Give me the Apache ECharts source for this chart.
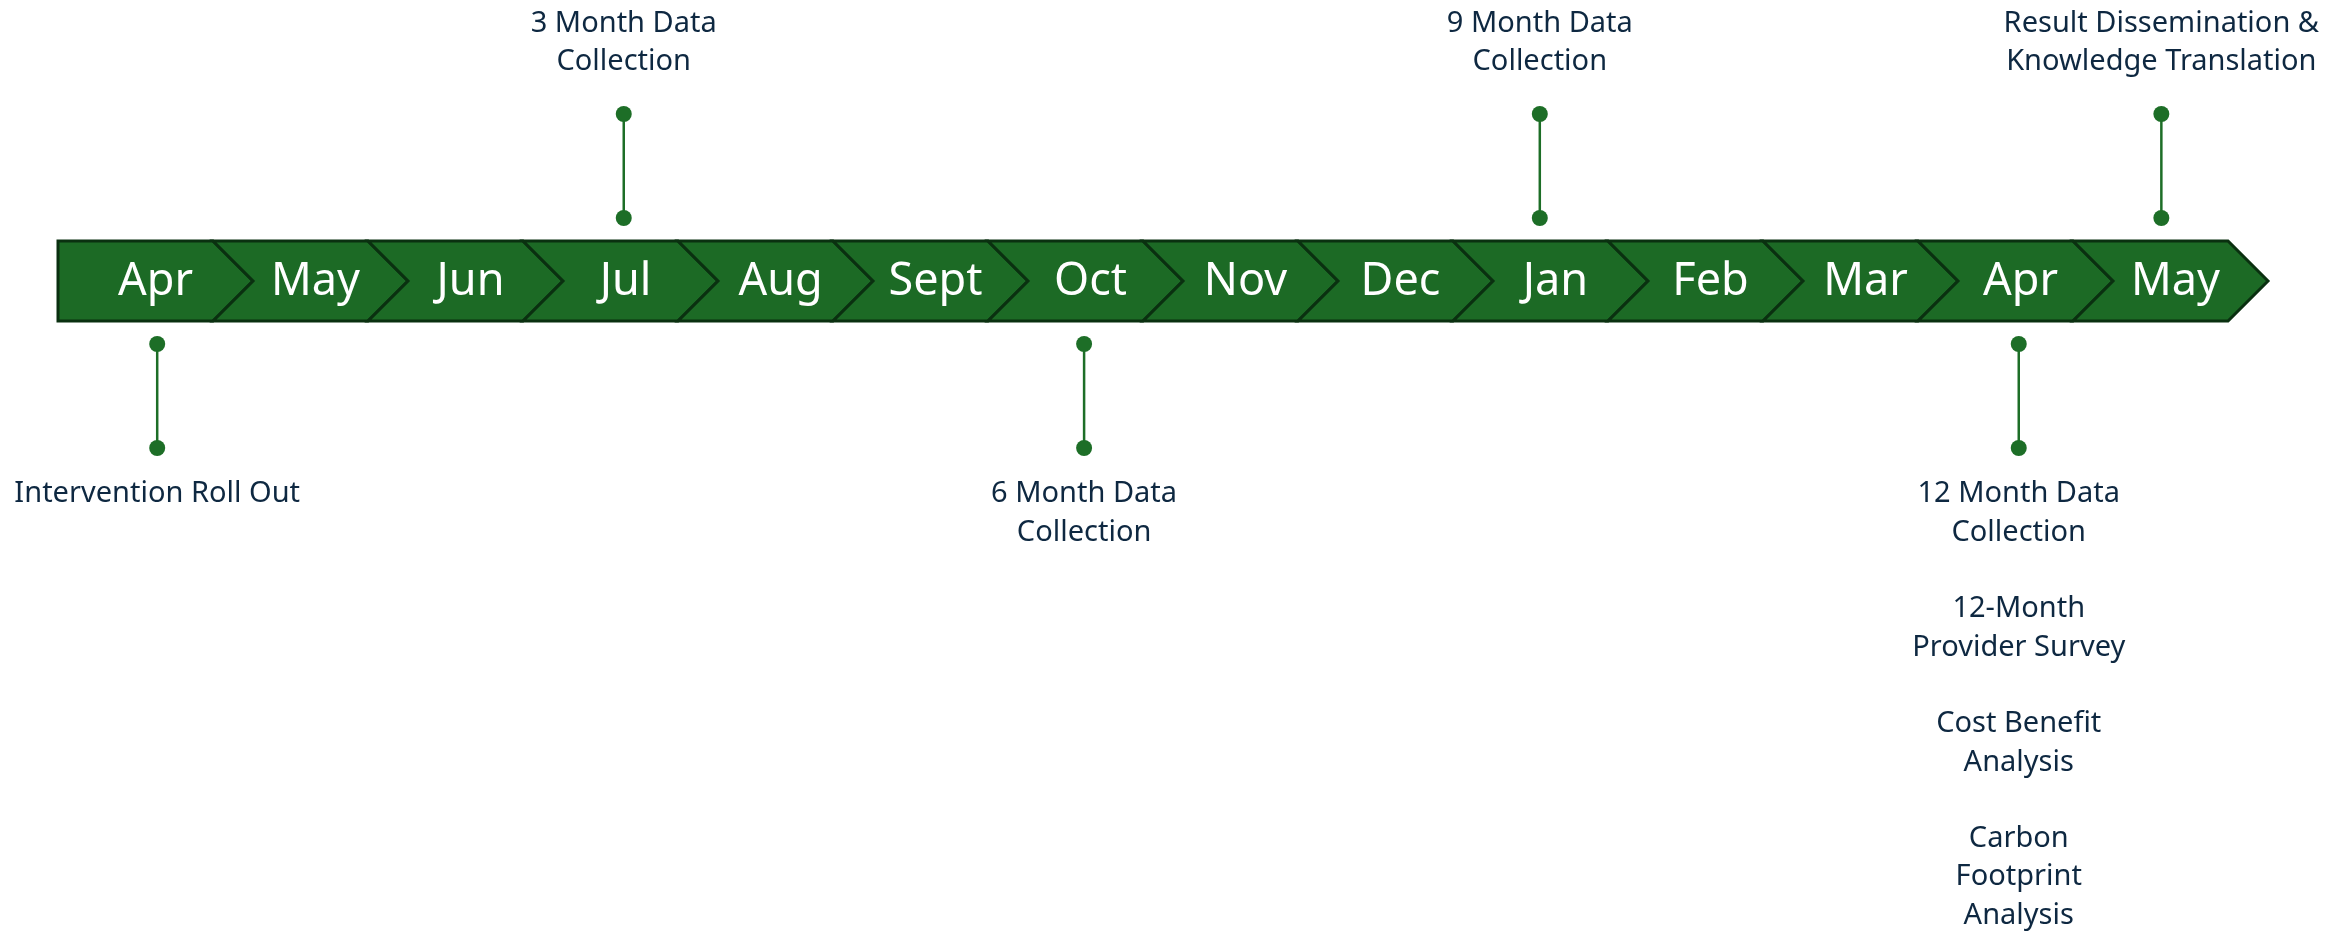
<!DOCTYPE html>
<html>
<head>
<meta charset="utf-8">
<script src="https://cdn.jsdelivr.net/npm/echarts@6/dist/echarts.min.js"></script>
<style>
html, body { margin: 0; padding: 0; background: #fff; }
#timelineChart { width: 2351px; height: 933px; }
</style>
</head>
<body>
<div id="timelineChart"></div>
<script>
// month chevrons along the bar
const months = ['Apr', 'May', 'Jun', 'Jul', 'Aug', 'Sept', 'Oct', 'Nov', 'Dec', 'Jan', 'Feb', 'Mar', 'Apr', 'May']
// milestones: position in months from the start of the bar, side (1 = above, -1 = below)
const milestonePos = [0.64, 3.65, 6.62, 9.56, 12.65, 13.57]
const milestoneSide = [-1, 1, -1, 1, -1, 1]
const milestoneText = [
    'Intervention Roll Out',
    '3 Month Data\nCollection',
    '6 Month Data\nCollection',
    '9 Month Data\nCollection',
    '12 Month Data\nCollection\n\n12-Month\nProvider Survey\n\nCost Benefit\nAnalysis\n\nCarbon\nFootprint\nAnalysis',
    'Result Dissemination &\nKnowledge Translation'
]

const fontFamily = '"Noto Sans", "Open Sans", sans-serif'
const barHalf = 40
const tipDepth = 40

const chevronData = months.map((m, i) => [i, 0, m])
const milestoneData = milestonePos.map((p, i) => [p, 0, milestoneSide[i], milestoneText[i]])

const renderChevron = (params, api) => {
    const i = api.value(0)
    const p0 = api.coord([i, 0])
    const p1 = api.coord([i + 1, 0])
    const y = p0[1]
    const pts = [[p0[0], y - barHalf], [p1[0], y - barHalf], [p1[0] + tipDepth, y], [p1[0], y + barHalf], [p0[0], y + barHalf]]
    if (i > 0) pts.push([p0[0] + tipDepth, y])
    return {
        type: 'group',
        children: [
            {
                type: 'polygon',
                shape: { points: pts },
                style: { fill: '#1c6a25', stroke: '#0a3010', lineWidth: 3, lineJoin: 'miter' }
            },
            {
                type: 'text',
                x: (p0[0] + tipDepth + p1[0]) / 2 + (i > 0 ? 5 : 0),
                y: y + 1,
                style: {
                    text: api.value(2),
                    fill: '#ffffff',
                    font: '45px ' + fontFamily,
                    align: 'center',
                    verticalAlign: 'middle'
                }
            }
        ]
    }
}

const renderMilestone = (params, api) => {
    const p = api.coord([api.value(0), 0])
    const side = api.value(2)
    const x = p[0]
    const near = p[1] - side * 63
    const far = p[1] - side * 167
    return {
        type: 'group',
        children: [
            { type: 'line', shape: { x1: x, y1: near, x2: x, y2: far }, style: { stroke: '#1d6e27', lineWidth: 2.5 } },
            { type: 'circle', shape: { cx: x, cy: near, r: 8 }, style: { fill: '#1d6e27' } },
            { type: 'circle', shape: { cx: x, cy: far, r: 8 }, style: { fill: '#1d6e27' } },
            {
                type: 'text',
                x: x,
                y: side > 0 ? far - 33 : far + 27,
                style: {
                    text: api.value(3),
                    fill: '#0e2841',
                    font: '29px ' + fontFamily,
                    lineHeight: 38.3,
                    align: 'center',
                    verticalAlign: side > 0 ? 'bottom' : 'top'
                }
            }
        ]
    }
}

const chart = echarts.init(document.getElementById('timelineChart'))
chart.setOption({
    animation: false,
    grid: { left: 58, right: 123, top: 0, height: 562 },
    xAxis: { type: 'value', min: 0, max: months.length, show: false },
    yAxis: { type: 'value', min: -1, max: 1, show: false },
    series: [
        { type: 'custom', renderItem: renderChevron, data: chevronData, clip: false, silent: true },
        { type: 'custom', renderItem: renderMilestone, data: milestoneData, clip: false, silent: true }
    ]
})
</script>
</body>
</html>
